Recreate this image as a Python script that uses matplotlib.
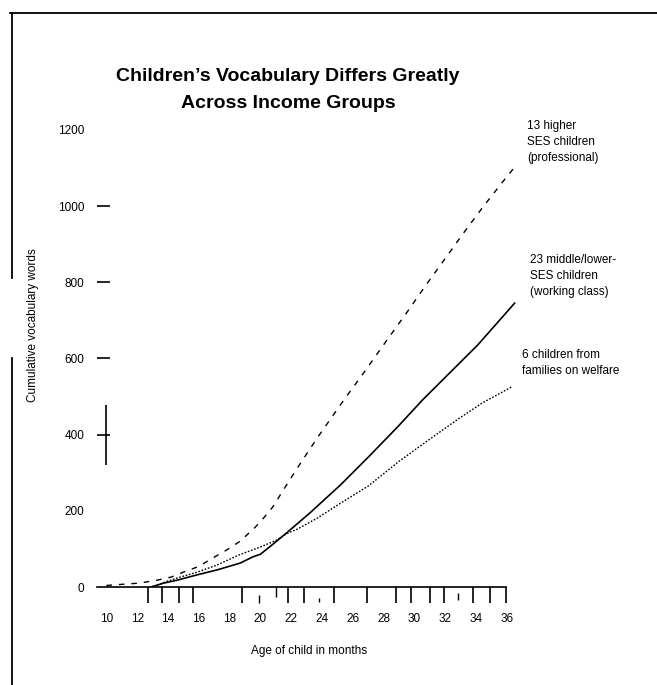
import matplotlib

matplotlib.use("Agg")
import matplotlib.pyplot as plt
from matplotlib.lines import Line2D

plt.rcParams["font.family"] = ["Liberation Sans", "DejaVu Sans"]

# data (age in months, cumulative words)
HIGH_AGE = [10.0, 11.0, 12.1, 13.3, 14.2, 15.0, 16.0, 16.9, 17.8, 18.6, 19.5, 20.1, 20.8,
            21.4, 21.9, 22.6, 23.7, 25.4, 26.7, 28.0, 29.6, 30.7, 31.9, 33.2, 34.4, 35.7, 36.5]
HIGH_WORDS = [4, 7, 10, 18, 26, 39, 54, 76, 97, 118, 150, 176, 210,
              249, 281, 325, 392, 490, 562, 636, 726, 790, 857, 930, 995, 1062, 1102]

MID_AGE = [12.9, 13.7, 14.6, 15.9, 17.2, 18.7, 19.5, 20.0, 20.8, 21.7, 23.2, 25.2, 27.1,
           28.9, 30.5, 34.1, 36.5]
MID_WORDS = [0, 10, 18, 32, 45, 63, 79, 86, 112, 142, 194, 268, 345,
             420, 490, 635, 745]

WELF_AGE = [13.3, 14.0, 14.8, 15.9, 17.2, 18.6, 20.0, 21.0, 21.7, 22.4, 23.7, 25.2, 27.0,
            29.0, 31.2, 32.8, 34.4, 36.3]
WELF_WORDS = [5, 16, 26, 39, 58, 84, 105, 122, 140, 152, 181, 220, 265,
              330, 394, 440, 483, 525]

X_LABELS = [10, 12, 14, 16, 18, 20, 22, 24, 26, 28, 30, 32, 34, 36]
X_TICK_MARKS = [12.7, 13.6, 14.7, 15.6, 18.8, 21.8, 22.8, 24.8, 26.9, 28.8, 29.8,
                31.0, 31.9, 33.8, 34.9, 35.95]
X_SHORT_MARKS = [19.9, 21.0, 23.8, 32.8]
Y_LABELS = [0, 200, 400, 600, 800, 1000, 1200]
Y_TICK_MARKS = [400, 600, 800, 1000]

LABEL_HIGH = "13 higher\nSES children\n(professional)"
LABEL_MID = "23 middle/lower-\nSES children\n(working class)"
LABEL_WELF = "6 children from\nfamilies on welfare"

W, H = 657, 685
fig = plt.figure(figsize=(W / 100, H / 100), dpi=100)
ax = fig.add_axes([96.7 / W, (H - 587) / H, 425.6 / W, 468.6 / H])

ax.plot(HIGH_AGE, HIGH_WORDS, color="black", lw=1.0, linestyle=(0, (4, 5)))
ax.plot(MID_AGE, MID_WORDS, color="black", lw=1.2)
ax.plot(WELF_AGE, WELF_WORDS, color="black", lw=1.0, linestyle=(0, (1.2, 1.2)))

ax.set_xlim(9.37, 37.0)
ax.set_ylim(0, 1230)

for side in ["top", "right", "left"]:
    ax.spines[side].set_visible(False)
ax.spines["bottom"].set_bounds(9.37, 35.95)
ax.spines["bottom"].set_linewidth(1.2)

ax.set_xticks(X_LABELS)
ax.set_xticklabels([str(v) for v in X_LABELS], fontsize=8.5)
ax.tick_params(axis="x", which="major", length=0, pad=19)
ax.set_xticks(X_TICK_MARKS, minor=True)
ax.tick_params(axis="x", which="minor", length=11.5, width=1.2, direction="out")
ax.vlines(X_SHORT_MARKS, [-42, -26, -40, -34], [-21, 0, -30, -16],
          color="black", lw=1.0, clip_on=False)

ax.yaxis.remove_overlapping_locs = False
ax.set_yticks(Y_LABELS)
ax.set_yticklabels([str(v) for v in Y_LABELS], fontsize=8.5)
ax.tick_params(axis="y", which="major", length=0, pad=9)
ax.set_yticks(Y_TICK_MARKS, minor=True)
ax.tick_params(axis="y", which="minor", length=9.5, width=1.2, direction="in")
# fragment of the vertical axis around 400
ax.vlines([10.0], [320], [478], color="black", lw=1.2)

ax.set_xlabel("Age of child in months", fontsize=8.5, labelpad=14)

fig.text(33 / W, 1 - 325 / H, "Cumulative vocabulary words", rotation=90,
         ha="center", va="center", fontsize=8.5)

fig.text(288 / W, 1 - 90 / H, "Children\u2019s Vocabulary Differs Greatly\nAcross Income Groups",
         ha="center", va="center", fontsize=14, fontweight="bold", linespacing=1.8)

fig.text(527 / W, 1 - 120 / H, LABEL_HIGH, ha="left", va="top", fontsize=8.5, linespacing=1.45)
fig.text(530 / W, 1 - 254 / H, LABEL_MID, ha="left", va="top", fontsize=8.5, linespacing=1.45)
fig.text(522 / W, 1 - 349 / H, LABEL_WELF, ha="left", va="top", fontsize=8.5, linespacing=1.45)

# outer frame: top edge and broken left edge
fig.add_artist(Line2D([10 / W, 1.0], [1 - 13 / H, 1 - 13 / H], color="black", lw=1.3))
fig.add_artist(Line2D([12 / W, 12 / W], [1 - 13 / H, 1 - 278 / H], color="black", lw=1.3))
fig.add_artist(Line2D([12 / W, 12 / W], [1 - 358 / H, 0.0], color="black", lw=1.3))

fig.savefig("out.png", dpi=100)
